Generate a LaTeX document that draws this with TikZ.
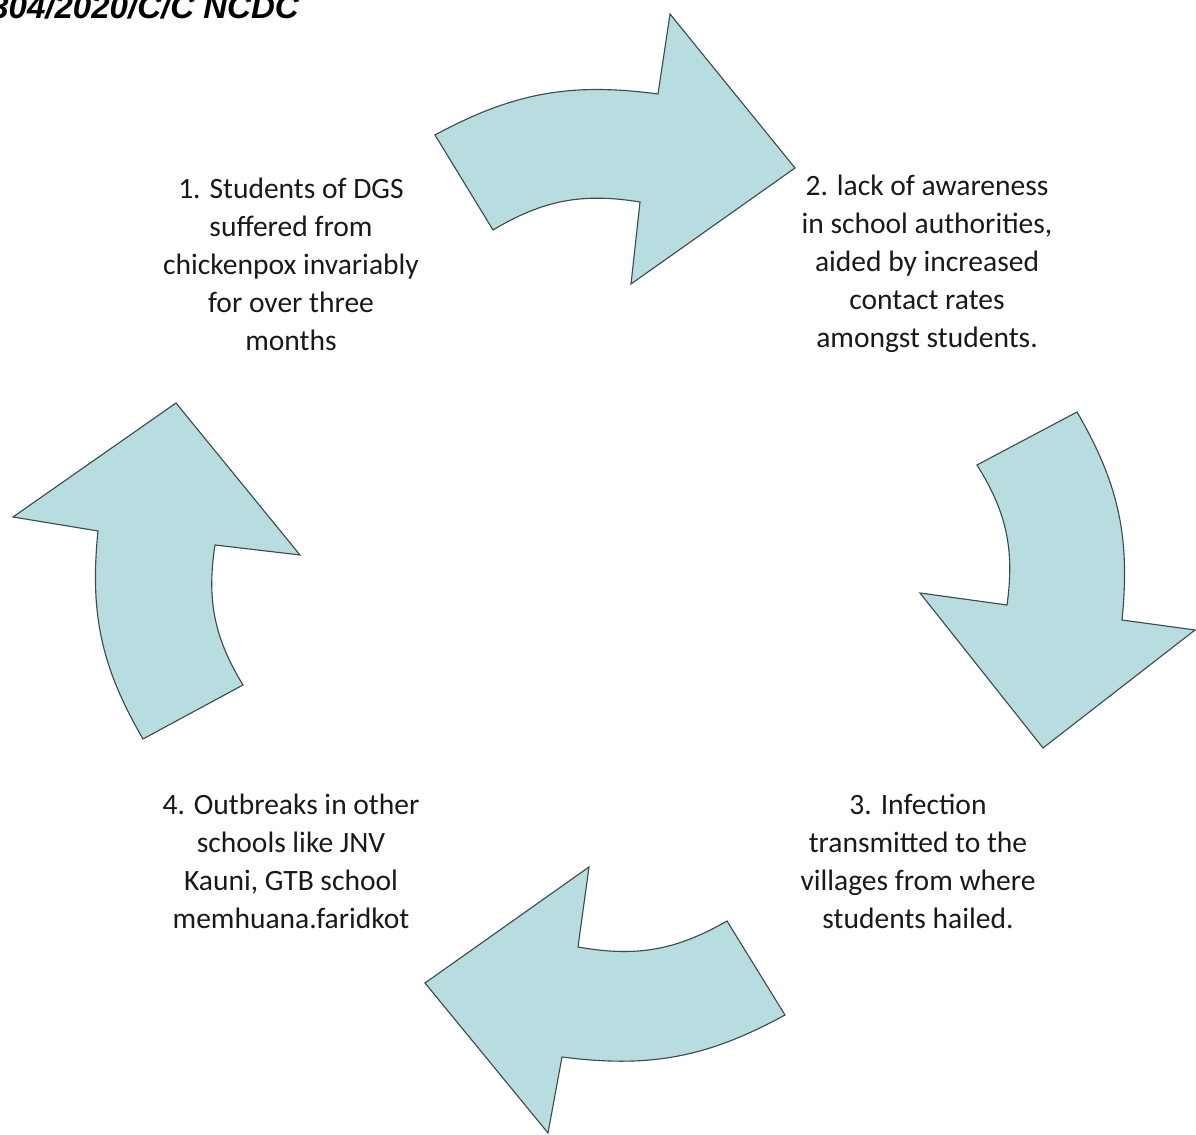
\documentclass[tikz,border=0pt]{standalone}
\usepackage{fontspec}
\setmainfont{Carlito}
\newfontfamily\headfont{Liberation Sans}
\definecolor{arrowAqua}{RGB}{183,221,224}
\definecolor{arrowEdge}{RGB}{62,74,76}
\begin{document}
\begin{tikzpicture}[x=0.025cm,y=0.025cm,
  cyclearrow/.style={draw=arrowEdge,fill=arrowAqua,line width=0.8pt,line join=miter},
  steptext/.style={align=center,inner sep=0pt,font=\fontsize{21}{27}\selectfont,text=black!90}]
\useasboundingbox (0,0) rectangle (1196,1135);
% header, cut by the page edge
\node[anchor=base west,inner sep=0pt,font=\headfont\bfseries\itshape\fontsize{23.5}{27}\selectfont] (ref) at (-10,1116) {304/2020/C/C NCDC};
% the four curved arrows
\draw[cyclearrow] (435,1000) to[bend left=18] (658,1041) -- (670,1121) -- (795,967) -- (631,851) -- (640,933) to[bend right=20] (493,905) -- cycle;
\draw[cyclearrow] (1077,723) to[bend left=18] (1122,515) -- (1195,505) -- (1043,387) -- (920,542) -- (1007,530) to[bend right=20] (977,670) -- cycle;
\draw[cyclearrow] (785,120) to[bend left=18] (562,78) -- (548,2) -- (425,152) -- (589,268) -- (578,188) to[bend right=20] (727,214) -- cycle;
\draw[cyclearrow] (143,396) to[bend left=18] (98,604) -- (13,618) -- (176,732) -- (300,580) -- (215,590) to[bend right=20] (243,450) -- cycle;
% step texts
\node[steptext] (one) at (291,871) {1. Students of DGS\\suffered from\\chickenpox invariably\\for over three\\months};
\node[steptext] (two) at (927,871) {2. lack of awareness\\in school authorities,\\aided by increased\\contact rates\\amongst students.};
\node[steptext] (three) at (918,274) {3. Infection\\transmitted to the\\villages from where\\students hailed.};
\node[steptext] (four) at (291,274) {4. Outbreaks in other\\schools like JNV\\Kauni, GTB school\\memhuana.faridkot};
\end{tikzpicture}
\end{document}
